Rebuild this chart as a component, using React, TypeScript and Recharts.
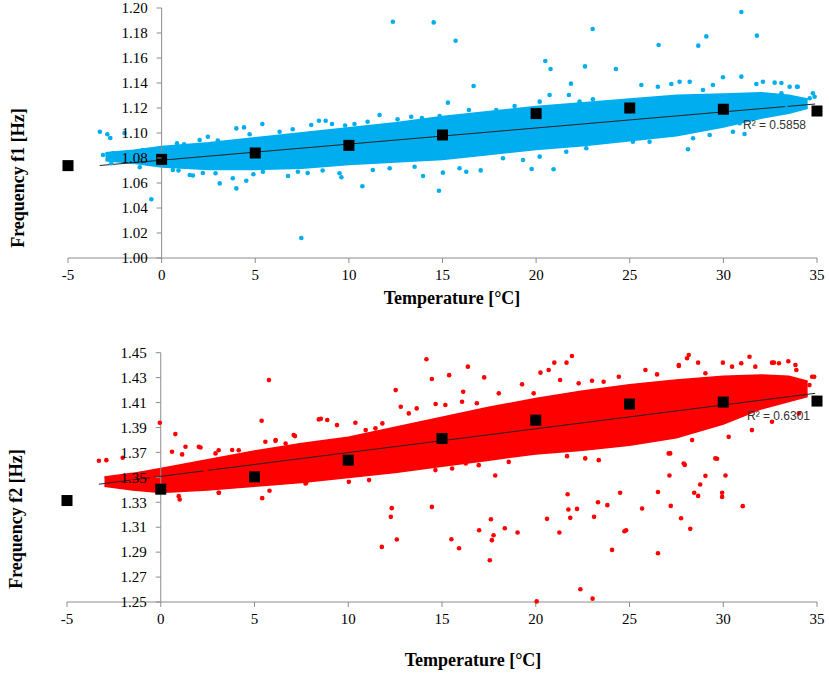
import React from "react";
import { ComposedChart, Area, Scatter, XAxis, YAxis, ReferenceLine } from "recharts";

const X_TICKS = [-5, 0, 5, 10, 15, 20, 25, 30, 35];
const F1_TICKS = [1.0, 1.02, 1.04, 1.06, 1.08, 1.1, 1.12, 1.14, 1.16, 1.18, 1.2];
const F2_TICKS = [1.25, 1.27, 1.29, 1.31, 1.33, 1.35, 1.37, 1.39, 1.41, 1.43, 1.45];

// mean frequency per 5 °C bin (black squares)
const F1_MEANS = [
  { x: -5, y: 1.0739 }, { x: 0, y: 1.0789 }, { x: 5, y: 1.084 }, { x: 10, y: 1.0901 },
  { x: 15, y: 1.0984 }, { x: 20, y: 1.1155 }, { x: 25, y: 1.12 }, { x: 30, y: 1.119 }, { x: 35, y: 1.1176 },
];
const F2_MEANS = [
  { x: -5, y: 1.3314 }, { x: 0, y: 1.3405 }, { x: 5, y: 1.3504 }, { x: 10, y: 1.3638 },
  { x: 15, y: 1.3812 }, { x: 20, y: 1.3959 }, { x: 25, y: 1.4088 }, { x: 30, y: 1.4104 }, { x: 35, y: 1.4112 },
];

// linear trend lines (end points)
const F1_TREND = [{ x: -3.3, y: 1.074 }, { x: 34.9, y: 1.1232 }];
const F2_TREND = [{ x: -3.3, y: 1.3445 }, { x: 34.9, y: 1.4174 }];

// dense core of the measurement cloud: [low, high] per temperature
const F1_CORE = [
  { x: -3, range: [1.078, 1.084] }, { x: -1.5, range: [1.076, 1.086] }, { x: 0, range: [1.073, 1.089] },
  { x: 2.5, range: [1.071, 1.092] }, { x: 5, range: [1.071, 1.096] }, { x: 7.5, range: [1.072, 1.1] },
  { x: 10, range: [1.075, 1.104] }, { x: 12.5, range: [1.077, 1.108] }, { x: 15, range: [1.079, 1.113] },
  { x: 17.5, range: [1.083, 1.117] }, { x: 20, range: [1.087, 1.121] }, { x: 22.5, range: [1.09, 1.124] },
  { x: 25, range: [1.094, 1.127] }, { x: 27.5, range: [1.098, 1.13] }, { x: 30, range: [1.105, 1.131] },
  { x: 32, range: [1.112, 1.132] }, { x: 33.5, range: [1.116, 1.13] }, { x: 34.5, range: [1.12, 1.127] },
];
const F2_CORE = [
  { x: -3, range: [1.343, 1.35] }, { x: -1.5, range: [1.34, 1.353] }, { x: 0, range: [1.338, 1.357] },
  { x: 2.5, range: [1.34, 1.364] }, { x: 5, range: [1.343, 1.371] }, { x: 7.5, range: [1.346, 1.377] },
  { x: 10, range: [1.35, 1.382] }, { x: 12.5, range: [1.354, 1.39] }, { x: 15, range: [1.359, 1.398] },
  { x: 17.5, range: [1.364, 1.406] }, { x: 20, range: [1.369, 1.413] }, { x: 22.5, range: [1.372, 1.419] },
  { x: 25, range: [1.376, 1.424] }, { x: 27.5, range: [1.382, 1.428] }, { x: 30, range: [1.393, 1.431] },
  { x: 32, range: [1.405, 1.432] }, { x: 33.5, range: [1.411, 1.431] }, { x: 34.5, range: [1.415, 1.427] },
];

// scattered measurements outside the core
const F1_POINTS = [
  { x: -3.3, y: 1.101 }, { x: -2.9, y: 1.099 }, { x: -2.74, y: 1.096 }, { x: -1.98, y: 1.1 },
  { x: -3.13, y: 1.0824 }, { x: -2.6, y: 1.0837 }, { x: -2.69, y: 1.0758 }, { x: -1.17, y: 1.0726 },
  { x: -1.0, y: 1.0864 }, { x: -0.55, y: 1.047 }, { x: 0.16, y: 1.085 }, { x: 0.6, y: 1.0704 },
  { x: 0.82, y: 1.0917 }, { x: 0.9, y: 1.07 }, { x: 1.2, y: 1.091 }, { x: 1.5, y: 1.0664 },
  { x: 1.67, y: 1.066 }, { x: 2.03, y: 1.0944 }, { x: 2.2, y: 1.068 }, { x: 2.47, y: 1.097 },
  { x: 2.88, y: 1.0678 }, { x: 3.0, y: 1.094 }, { x: 3.1, y: 1.0597 }, { x: 3.8, y: 1.0638 },
  { x: 3.99, y: 1.0557 }, { x: 4.52, y: 1.0618 }, { x: 3.99, y: 1.1037 }, { x: 4.4, y: 1.1045 },
  { x: 4.7, y: 1.099 }, { x: 4.9, y: 1.067 }, { x: 5.38, y: 1.1072 }, { x: 5.41, y: 1.069 },
  { x: 6.12, y: 1.073 }, { x: 6.3, y: 1.101 }, { x: 6.75, y: 1.0656 }, { x: 7.0, y: 1.103 },
  { x: 7.28, y: 1.069 }, { x: 7.46, y: 1.016 }, { x: 7.8, y: 1.068 }, { x: 7.99, y: 1.1064 },
  { x: 8.4, y: 1.1098 }, { x: 8.6, y: 1.07 }, { x: 8.76, y: 1.1098 }, { x: 9.1, y: 1.1072 },
  { x: 9.5, y: 1.0678 }, { x: 9.6, y: 1.0646 }, { x: 9.8, y: 1.106 }, { x: 10.3, y: 1.1072 },
  { x: 10.72, y: 1.0574 }, { x: 11.0, y: 1.109 }, { x: 11.28, y: 1.0704 }, { x: 11.64, y: 1.1144 },
  { x: 12.18, y: 1.0718 }, { x: 12.35, y: 1.189 }, { x: 12.6, y: 1.111 }, { x: 13.33, y: 1.113 },
  { x: 13.51, y: 1.073 }, { x: 13.9, y: 1.112 }, { x: 13.96, y: 1.0656 }, { x: 14.53, y: 1.1885 },
  { x: 14.81, y: 1.0538 }, { x: 14.85, y: 1.1136 }, { x: 15.02, y: 1.0683 }, { x: 15.29, y: 1.1243 },
  { x: 15.7, y: 1.1738 }, { x: 15.91, y: 1.0718 }, { x: 16.27, y: 1.069 }, { x: 16.41, y: 1.1184 },
  { x: 16.66, y: 1.1376 }, { x: 17.04, y: 1.0701 }, { x: 17.87, y: 1.1184 }, { x: 18.23, y: 1.0798 },
  { x: 18.85, y: 1.1216 }, { x: 19.3, y: 1.0784 }, { x: 19.76, y: 1.0712 }, { x: 20.19, y: 1.1251 },
  { x: 20.19, y: 1.0811 }, { x: 20.49, y: 1.1576 }, { x: 20.72, y: 1.1304 }, { x: 20.77, y: 1.1512 },
  { x: 20.93, y: 1.071 }, { x: 21.61, y: 1.085 }, { x: 21.75, y: 1.1304 }, { x: 21.86, y: 1.1395 },
  { x: 22.32, y: 1.1251 }, { x: 22.61, y: 1.1533 }, { x: 22.68, y: 1.0878 }, { x: 23.02, y: 1.1832 },
  { x: 23.03, y: 1.127 }, { x: 24.26, y: 1.1512 }, { x: 24.64, y: 1.0944 }, { x: 25.17, y: 1.093 },
  { x: 25.62, y: 1.1384 }, { x: 26.06, y: 1.093 }, { x: 26.5, y: 1.137 }, { x: 26.54, y: 1.1704 },
  { x: 26.95, y: 1.0984 }, { x: 27.22, y: 1.1392 }, { x: 27.66, y: 1.141 }, { x: 28.11, y: 1.087 },
  { x: 28.2, y: 1.141 }, { x: 28.38, y: 1.0958 }, { x: 28.66, y: 1.1699 }, { x: 28.91, y: 1.1344 },
  { x: 29.09, y: 1.1773 }, { x: 29.27, y: 1.0984 }, { x: 29.44, y: 1.1384 }, { x: 29.98, y: 1.1446 },
  { x: 30.51, y: 1.101 }, { x: 30.87, y: 1.1078 }, { x: 30.96, y: 1.1451 }, { x: 30.96, y: 1.1968 },
  { x: 31.13, y: 1.0992 }, { x: 31.76, y: 1.1392 }, { x: 31.79, y: 1.1779 }, { x: 32.11, y: 1.141 },
  { x: 32.74, y: 1.1403 }, { x: 33.1, y: 1.1318 }, { x: 33.1, y: 1.14 }, { x: 33.37, y: 1.1198 },
  { x: 33.54, y: 1.137 }, { x: 33.93, y: 1.137 }, { x: 33.97, y: 1.137 }, { x: 34.61, y: 1.1278 },
  { x: 34.78, y: 1.1318 }, { x: 34.87, y: 1.129 },
];
const F2_POINTS = [
  { x: -3.3, y: 1.3633 }, { x: -2.9, y: 1.3638 }, { x: -2.03, y: 1.3657 }, { x: -1.53, y: 1.3464 },
  { x: -0.46, y: 1.3504 }, { x: -0.05, y: 1.3938 }, { x: 0.6, y: 1.3705 }, { x: 0.78, y: 1.3847 },
  { x: 0.96, y: 1.3429 }, { x: 0.96, y: 1.3349 }, { x: 1.01, y: 1.3322 }, { x: 1.14, y: 1.3684 },
  { x: 1.32, y: 1.3745 }, { x: 1.67, y: 1.3411 }, { x: 2.03, y: 1.3745 }, { x: 2.12, y: 1.374 },
  { x: 2.39, y: 1.3558 }, { x: 2.56, y: 1.3437 }, { x: 2.92, y: 1.3692 }, { x: 3.09, y: 1.3718 },
  { x: 3.09, y: 1.3376 }, { x: 3.1, y: 1.3376 }, { x: 3.81, y: 1.3719 }, { x: 4.16, y: 1.3718 },
  { x: 4.17, y: 1.3437 }, { x: 4.88, y: 1.3451 }, { x: 5.38, y: 1.3954 }, { x: 5.41, y: 1.3333 },
  { x: 5.58, y: 1.3785 }, { x: 5.77, y: 1.428 }, { x: 5.8, y: 1.3392 }, { x: 6.12, y: 1.3793 },
  { x: 6.13, y: 1.3799 }, { x: 6.48, y: 1.3584 }, { x: 6.65, y: 1.3491 }, { x: 6.66, y: 1.3772 },
  { x: 7.09, y: 1.3839 }, { x: 7.16, y: 1.3831 }, { x: 7.72, y: 1.3451 }, { x: 7.76, y: 1.3456 },
  { x: 8.43, y: 1.3965 }, { x: 8.54, y: 1.397 }, { x: 8.78, y: 1.3531 }, { x: 8.8, y: 1.3531 },
  { x: 8.88, y: 1.396 }, { x: 9.4, y: 1.3919 }, { x: 10.03, y: 1.3464 }, { x: 10.38, y: 1.3938 },
  { x: 10.93, y: 1.3879 }, { x: 11.11, y: 1.3478 }, { x: 11.27, y: 1.3544 }, { x: 11.45, y: 1.3893 },
  { x: 11.79, y: 1.2942 }, { x: 11.82, y: 1.3933 }, { x: 12.27, y: 1.3183 }, { x: 12.32, y: 1.3253 },
  { x: 12.34, y: 1.3558 }, { x: 12.53, y: 1.42 }, { x: 12.59, y: 1.3001 }, { x: 12.8, y: 1.4066 },
  { x: 13.23, y: 1.4013 }, { x: 13.58, y: 1.3584 }, { x: 13.65, y: 1.4053 }, { x: 14.17, y: 1.4447 },
  { x: 14.46, y: 1.4289 }, { x: 14.46, y: 1.3263 }, { x: 14.65, y: 1.3558 }, { x: 14.66, y: 1.4088 },
  { x: 15.18, y: 1.408 }, { x: 15.38, y: 1.432 }, { x: 15.5, y: 1.3004 }, { x: 15.54, y: 1.3571 },
  { x: 15.91, y: 1.2931 }, { x: 16.07, y: 1.4106 }, { x: 16.13, y: 1.4187 }, { x: 16.27, y: 1.3612 },
  { x: 16.38, y: 1.4388 }, { x: 16.86, y: 1.4094 }, { x: 16.96, y: 1.3598 }, { x: 16.98, y: 1.3076 },
  { x: 17.25, y: 1.4302 }, { x: 17.55, y: 1.2835 }, { x: 17.61, y: 1.3164 }, { x: 17.66, y: 1.2996 },
  { x: 17.75, y: 1.3036 }, { x: 17.84, y: 1.3515 }, { x: 18.03, y: 1.4174 }, { x: 18.03, y: 1.3692 },
  { x: 18.35, y: 1.3092 }, { x: 18.56, y: 1.3624 }, { x: 19.03, y: 1.3058 }, { x: 19.27, y: 1.4246 },
  { x: 19.89, y: 1.4174 }, { x: 19.98, y: 1.3718 }, { x: 20.05, y: 1.2505 }, { x: 20.25, y: 1.434 },
  { x: 20.6, y: 1.3167 }, { x: 20.69, y: 1.4361 }, { x: 20.99, y: 1.442 }, { x: 21.26, y: 1.3058 },
  { x: 21.3, y: 1.4281 }, { x: 21.64, y: 1.442 }, { x: 21.67, y: 1.367 }, { x: 21.7, y: 1.3365 },
  { x: 21.74, y: 1.3242 }, { x: 21.84, y: 1.3175 }, { x: 21.93, y: 1.4474 }, { x: 22.2, y: 1.3247 },
  { x: 22.29, y: 1.4254 }, { x: 22.38, y: 1.2602 }, { x: 22.64, y: 1.3652 }, { x: 23.0, y: 1.4275 },
  { x: 23.03, y: 1.2527 }, { x: 23.11, y: 1.3183 }, { x: 23.32, y: 1.33 }, { x: 23.36, y: 1.3638 },
  { x: 23.62, y: 1.4267 }, { x: 23.82, y: 1.3277 }, { x: 24.07, y: 1.2918 }, { x: 24.25, y: 1.3772 },
  { x: 24.43, y: 1.4307 }, { x: 24.5, y: 1.3376 }, { x: 24.73, y: 1.3068 }, { x: 24.82, y: 1.3076 },
  { x: 25.49, y: 1.3785 }, { x: 25.67, y: 1.325 }, { x: 25.85, y: 1.4361 }, { x: 26.47, y: 1.4326 },
  { x: 26.52, y: 1.3383 }, { x: 26.52, y: 1.2891 }, { x: 26.9, y: 1.4254 }, { x: 27.09, y: 1.3692 },
  { x: 27.13, y: 1.3515 }, { x: 27.17, y: 1.3692 }, { x: 27.2, y: 1.3271 }, { x: 27.63, y: 1.4393 },
  { x: 27.63, y: 1.4401 }, { x: 27.75, y: 1.3172 }, { x: 27.89, y: 1.3611 }, { x: 27.95, y: 1.36 },
  { x: 28.07, y: 1.4455 }, { x: 28.16, y: 1.4482 }, { x: 28.24, y: 1.3087 }, { x: 28.34, y: 1.3799 },
  { x: 28.45, y: 1.3376 }, { x: 28.66, y: 1.442 }, { x: 28.66, y: 1.3351 }, { x: 28.77, y: 1.3443 },
  { x: 29.05, y: 1.3512 }, { x: 29.05, y: 1.4335 }, { x: 29.58, y: 1.3652 }, { x: 29.67, y: 1.3649 },
  { x: 29.94, y: 1.3376 }, { x: 29.94, y: 1.3343 }, { x: 29.98, y: 1.442 }, { x: 30.12, y: 1.3515 },
  { x: 30.29, y: 1.3825 }, { x: 30.47, y: 1.4388 }, { x: 30.96, y: 1.4415 }, { x: 31.04, y: 1.3269 },
  { x: 31.4, y: 1.4468 }, { x: 31.53, y: 1.3879 }, { x: 31.71, y: 1.4388 }, { x: 32.6, y: 1.442 },
  { x: 32.6, y: 1.3946 }, { x: 32.7, y: 1.442 }, { x: 32.97, y: 1.4415 }, { x: 33.47, y: 1.4431 },
  { x: 33.85, y: 1.4401 }, { x: 33.85, y: 1.4267 }, { x: 33.9, y: 1.4361 }, { x: 34.03, y: 1.4013 },
  { x: 34.6, y: 1.424 }, { x: 34.74, y: 1.4307 }, { x: 34.85, y: 1.4307 },
];

const BLUE = "#00AEEF";
const RED = "#FF0000";
const AXIS = "#8c8c8c";
const SERIF = "'Liberation Serif', 'Times New Roman', serif";
const SANS = "'Liberation Sans', Arial, sans-serif";
const W = 829;

const dot = (color: string) => (p: any) => <circle cx={p.cx} cy={p.cy} r={2.3} fill={color} />;
const square = (p: any) => <rect x={p.cx - 5.5} y={p.cy - 5.5} width={11} height={11} fill="#000" />;

const xTick = (p: any) => (
  <text x={p.x} y={p.y} dy="0.71em" textAnchor="middle" fontFamily={SERIF} fontSize={15} fill="#000">
    {p.payload.value}
  </text>
);

function Panel({ top, height, left, right, plotTop, core, points, means, trend, ticks, color }: any) {
  const plotW = W - left - right;
  const axisX = left + (plotW * 5) / 40; // y axis crosses at 0 °C
  const yTick = (p: any) => (
    <g>
      <line x1={axisX - 5} x2={axisX} y1={p.y} y2={p.y} stroke={AXIS} />
      <text x={axisX - 14} y={p.y} dy="0.35em" textAnchor="end" fontFamily={SERIF} fontSize={15} fill="#000">
        {Number(p.payload.value).toFixed(2)}
      </text>
    </g>
  );
  return (
    <div style={{ position: "absolute", left: 0, top }}>
      <ComposedChart width={W} height={height} data={core} margin={{ top: plotTop, right, bottom: 42, left: left - 1 }}>
        <XAxis type="number" dataKey="x" domain={[-5, 35]} ticks={X_TICKS} height={30}
          axisLine={{ stroke: AXIS }} tickLine={{ stroke: AXIS }} tickSize={5} tickMargin={6} tick={xTick} />
        <YAxis type="number" dataKey="y" domain={[ticks[0], ticks[ticks.length - 1]]} ticks={ticks} width={1}
          axisLine={false} tickLine={false} tick={yTick} interval={0} />
        <ReferenceLine x={0} stroke={AXIS} />
        <Area dataKey="range" type="linear" stroke={color} strokeWidth={2} fill={color} fillOpacity={1} isAnimationActive={false} />
        <Scatter data={points} shape={dot(color)} isAnimationActive={false} />
        <ReferenceLine segment={trend} stroke="#222" strokeWidth={1} />
        <Scatter data={means} shape={square} isAnimationActive={false} />
      </ComposedChart>
    </div>
  );
}

const titleStyle: React.CSSProperties = {
  position: "absolute", fontFamily: SERIF, fontWeight: "bold", fontSize: 18, whiteSpace: "nowrap",
  transform: "translate(-50%, -50%)", color: "#000",
};
const rotStyle: React.CSSProperties = { ...titleStyle, transform: "translate(-50%, -50%) rotate(-90deg)" };
const r2Style: React.CSSProperties = {
  position: "absolute", fontFamily: SANS, fontSize: 12, color: "#333", whiteSpace: "nowrap",
  transform: "translateY(-50%)",
};

export default function App() {
  return (
    <div style={{ position: "absolute", left: 0, top: 0, width: W, height: 674, background: "#fff" }}>
      <Panel top={0} height={330} left={68} right={12} plotTop={8} core={F1_CORE} points={F1_POINTS}
        means={F1_MEANS} trend={F1_TREND} ticks={F1_TICKS} color={BLUE} />
      <Panel top={330} height={344} left={67} right={12} plotTop={22.7} core={F2_CORE} points={F2_POINTS}
        means={F2_MEANS} trend={F2_TREND} ticks={F2_TICKS} color={RED} />
      <div style={{ ...r2Style, left: 743, top: 125 }}>R² = 0.5858</div>
      <div style={{ ...r2Style, left: 747, top: 416 }}>R² = 0.6301</div>
      <div style={{ ...rotStyle, left: 18, top: 178 }}>Frequency f1 [Hz]</div>
      <div style={{ ...rotStyle, left: 16, top: 519 }}>Frequency f2 [Hz]</div>
      <div style={{ ...titleStyle, left: 452, top: 298 }}>Temperature [°C]</div>
      <div style={{ ...titleStyle, left: 473, top: 660 }}>Temperature [°C]</div>
    </div>
  );
}
